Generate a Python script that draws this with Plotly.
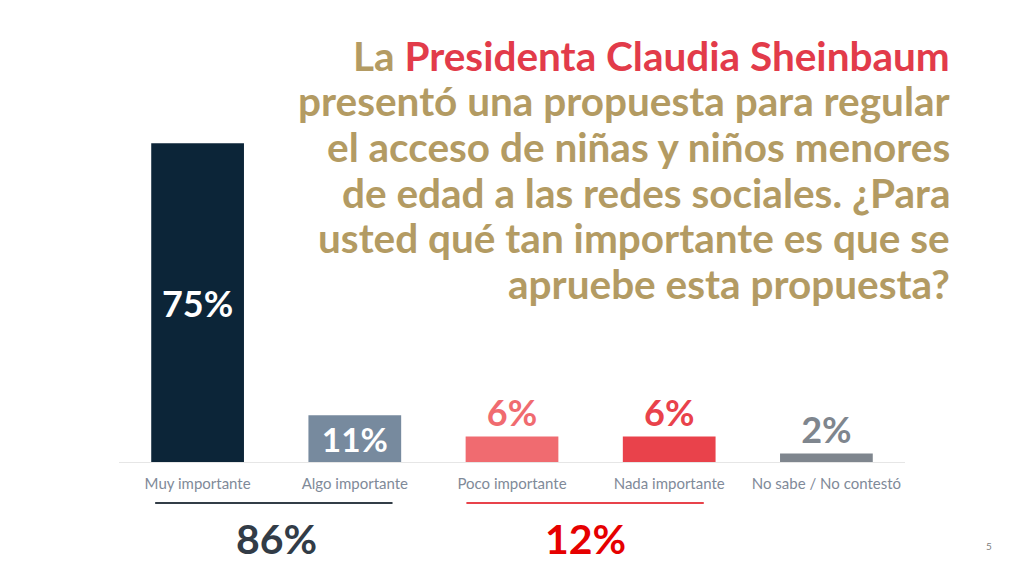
import plotly.graph_objects as go

categorias = ["Muy importante", "Algo importante", "Poco importante", "Nada importante", "No sabe / No contestó"]
valores = [75, 11, 6, 6, 2]
etiquetas = ["75%", "11%", "6%", "6%", "2%"]
colores = ["#0c2538", "#778a9e", "#f06b70", "#e9424b", "#7f868e"]
posiciones = ["inside", "inside", "outside", "outside", "outside"]
color_texto = ["white", "white", "#f06b70", "#e9424b", "#7f868e"]

totales = ["86%", "12%"]

ORO = "#b39b63"
ROJO = "#e23b4a"

titulo = [
    f"La <span style='color:{ROJO}'>Presidenta Claudia Sheinbaum</span>",
    "presentó una propuesta para regular",
    "el acceso de niñas y niños menores",
    "de edad a las redes sociales. ¿Para",
    "usted qué tan importante es que se",
    "apruebe esta propuesta?",
]

# geometria del area de trazado (px)
ML, MT, MB = 111, 29, 122
ALTO = 576 - MT - MB

fig = go.Figure(
    go.Bar(
        x=categorias,
        y=valores,
        text=etiquetas,
        textposition=posiciones,
        insidetextanchor="middle",
        textfont=dict(family="Lato", size=36, weight="bold", color=color_texto),
        outsidetextfont=dict(family="Lato", size=36, weight="bold", color=color_texto),
        marker=dict(color=colores, line=dict(width=0)),
        cliponaxis=False,
        hoverinfo="skip",
    )
)

# titulo linea por linea para controlar el interlineado
for i, linea in enumerate(titulo):
    y_px = 47 + i * 45.7  # centro de la linea, px desde arriba del area
    fig.add_annotation(
        text=linea, xref="paper", yref="paper", x=1.06, y=1 - (y_px - MT) / ALTO,
        xanchor="right", yanchor="middle", align="right", showarrow=False,
        font=dict(family="Lato", size=40.5, weight="bold", color=ORO),
    )

# lineas de agrupacion y totales
fig.add_shape(type="line", xref="x", yref="paper", x0=-0.27, x1=1.24, y0=-0.0965, y1=-0.0965,
              line=dict(color="#333d47", width=2))
fig.add_shape(type="line", xref="x", yref="paper", x0=1.71, x1=3.22, y0=-0.0965, y1=-0.0965,
              line=dict(color="#e8434b", width=2))
fig.add_annotation(text=totales[0], xref="x", yref="paper", x=0.5, y=-0.179, showarrow=False,
                   yanchor="middle", font=dict(family="Lato", size=41, weight="bold", color="#323c47"))
fig.add_annotation(text=totales[1], xref="x", yref="paper", x=2.47, y=-0.179, showarrow=False,
                   yanchor="middle", font=dict(family="Lato", size=41, weight="bold", color="#e60000"))

fig.add_annotation(text="5", xref="paper", yref="paper", x=1.107, y=-0.198, showarrow=False,
                   xanchor="center", yanchor="middle", font=dict(family="Lato", size=10, color="#7f7f7f"))

fig.update_layout(
    width=1024, height=576,
    margin=dict(l=ML, r=127, t=MT, b=MB),
    paper_bgcolor="white", plot_bgcolor="white",
    bargap=0.41,
    showlegend=False,
    xaxis=dict(
        range=[-0.5, 4.5], showgrid=False, showline=True, linecolor="#e6e6e6", linewidth=1,
        ticks="outside", ticklen=8, tickcolor="rgba(0,0,0,0)",
        tickfont=dict(family="Lato", size=15, color="#7f8a99"), fixedrange=True,
    ),
    yaxis=dict(range=[0, 100], visible=False, fixedrange=True),
)

fig.write_html("out.html")
